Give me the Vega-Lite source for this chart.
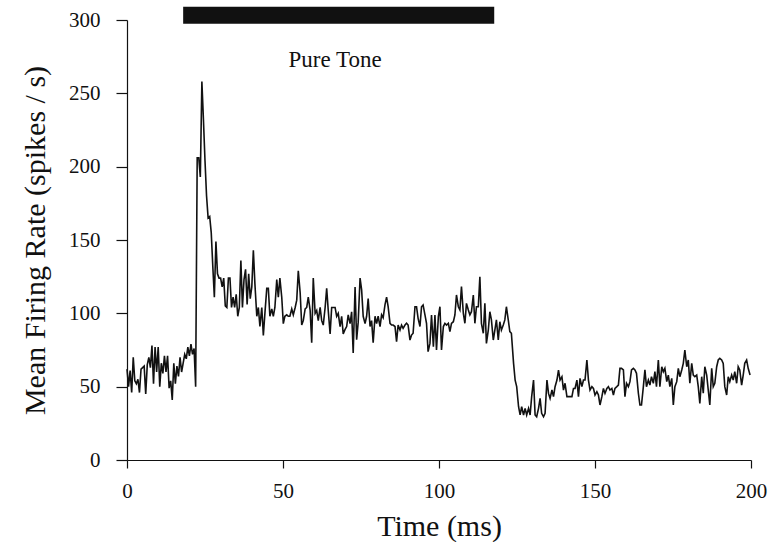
{
  "$schema": "https://vega.github.io/schema/vega-lite/v6.json",
  "width": 624,
  "height": 440,
  "autosize": "none",
  "padding": {"left": 127, "top": 20, "right": 25, "bottom": 82},
  "background": "white",
  "config": {
    "view": {"stroke": null},
    "font": "Liberation Serif",
    "axis": {
      "grid": false,
      "domainColor": "#111",
      "tickColor": "#111",
      "labelColor": "#111",
      "titleColor": "#111",
      "labelFont": "Liberation Serif",
      "titleFont": "Liberation Serif",
      "labelFontSize": 21,
      "titleFontSize": 30,
      "titleFontWeight": "normal",
      "labelFlush": false,
      "labelOverlap": false,
      "domainWidth": 1.2,
      "tickWidth": 1.2
    }
  },
  "layer": [
    {
      "data": {"values": [
        {"t":0,"r":62},{"t":0.5,"r":50},{"t":1,"r":61},{"t":1.5,"r":46},{"t":2,"r":70},{"t":2.5,"r":54},{"t":3,"r":52},{"t":3.5,"r":55},{"t":4,"r":46},{"t":4.5,"r":62},
        {"t":5,"r":63},{"t":5.5,"r":64},{"t":6,"r":45},{"t":6.5,"r":65},{"t":7,"r":70},{"t":7.5,"r":63},{"t":8,"r":78},{"t":8.5,"r":52},{"t":9,"r":77},{"t":9.5,"r":60},
        {"t":10,"r":77},{"t":10.5,"r":50},{"t":11,"r":66},{"t":11.5,"r":59},{"t":12,"r":71},{"t":12.5,"r":60},{"t":13,"r":71},{"t":13.5,"r":49},{"t":14,"r":54},{"t":14.5,"r":41},
        {"t":15,"r":66},{"t":15.5,"r":52},{"t":16,"r":64},{"t":16.5,"r":57},{"t":17,"r":70},{"t":17.5,"r":60},{"t":18,"r":66},{"t":18.5,"r":72},{"t":19,"r":69},{"t":19.5,"r":77},
        {"t":20,"r":71},{"t":20.5,"r":79},{"t":21,"r":72},{"t":21.5,"r":76},{"t":22,"r":50},
        {"t":22.5,"r":206},{"t":23,"r":206},{"t":23.5,"r":193},{"t":24,"r":258},{"t":24.5,"r":232},{"t":25,"r":204},{"t":25.5,"r":180},{"t":26,"r":165},{"t":26.5,"r":166},{"t":27,"r":155},
        {"t":27.5,"r":132},{"t":28,"r":111},{"t":28.5,"r":149},{"t":29,"r":127},{"t":29.5,"r":124},
        {"t":30,"r":124},{"t":30.5,"r":118},{"t":31,"r":124},{"t":31.5,"r":105},{"t":32,"r":104},{"t":32.5,"r":124},{"t":33,"r":124},{"t":33.5,"r":104},{"t":34,"r":111},{"t":34.5,"r":104},
        {"t":35,"r":113},{"t":35.5,"r":98},{"t":36,"r":104},{"t":36.5,"r":136},{"t":37,"r":104},{"t":37.5,"r":123},{"t":38,"r":130},{"t":38.5,"r":106},{"t":39,"r":127},{"t":39.5,"r":110},{"t":40,"r":118},
        {"t":40.5,"r":143},{"t":41.0,"r":120},{"t":41.6,"r":98},{"t":42.1,"r":104},{"t":42.6,"r":91},{"t":43.2,"r":104},{"t":43.7,"r":85},{"t":44.2,"r":100},{"t":44.8,"r":117},{"t":45.3,"r":117},
        {"t":45.8,"r":98},{"t":46.4,"r":103},{"t":46.9,"r":98},{"t":47.4,"r":104},{"t":48.0,"r":123},{"t":48.5,"r":111},{"t":49.0,"r":124},{"t":49.6,"r":111},{"t":50.1,"r":93},{"t":50.6,"r":98},
        {"t":51.2,"r":99},{"t":51.7,"r":98},{"t":52.2,"r":98},{"t":52.8,"r":103},{"t":53.3,"r":99},{"t":53.9,"r":104},{"t":54.4,"r":109},{"t":54.9,"r":129},{"t":55.5,"r":114},{"t":56.0,"r":92},
        {"t":56.5,"r":95},{"t":57.1,"r":103},{"t":57.6,"r":104},{"t":58.1,"r":111},{"t":58.7,"r":102},{"t":59.2,"r":80},{"t":59.7,"r":124},{"t":60.3,"r":100},{"t":60.8,"r":102},{"t":61.3,"r":95},
        {"t":61.9,"r":104},{"t":62.4,"r":95},{"t":62.9,"r":92},{"t":63.5,"r":104},{"t":64.0,"r":117},{"t":64.5,"r":102},{"t":65.1,"r":86},{"t":65.6,"r":104},{"t":66.1,"r":104},{"t":66.7,"r":104},
        {"t":67.2,"r":98},{"t":67.7,"r":100},{"t":68.3,"r":91},{"t":68.8,"r":98},{"t":69.3,"r":86},{"t":69.9,"r":89},{"t":70.4,"r":91},{"t":70.9,"r":99},{"t":71.5,"r":93},{"t":72.0,"r":101},
        {"t":72.5,"r":73},{"t":73.1,"r":118},{"t":73.6,"r":82},{"t":74.1,"r":94},{"t":74.7,"r":124},{"t":75.2,"r":116},{"t":75.7,"r":98},{"t":76.3,"r":93},{"t":76.8,"r":98},{"t":77.3,"r":110},
        {"t":77.9,"r":91},{"t":78.4,"r":95},{"t":78.9,"r":80},{"t":79.5,"r":98},{"t":80.0,"r":93},{"t":80.5,"r":98},{"t":81.1,"r":91},{"t":81.6,"r":99},{"t":82.1,"r":97},{"t":82.7,"r":106},{"t":83.2,"r":111},
        {"t":83.7,"r":104.5},{"t":84.3,"r":93.2},{"t":84.8,"r":92},{"t":85.3,"r":92},{"t":85.9,"r":91},{"t":86.4,"r":80.7},{"t":86.9,"r":92},{"t":87.5,"r":88.6},{"t":88.0,"r":92},{"t":88.5,"r":89.8},
        {"t":89.1,"r":92},{"t":89.6,"r":93.2},{"t":90.1,"r":92},{"t":90.7,"r":81.8},{"t":91.2,"r":85.2},{"t":91.7,"r":86.4},{"t":92.3,"r":104.5},{"t":92.8,"r":104.5},{"t":93.3,"r":96.6},{"t":93.9,"r":91},
        {"t":94.4,"r":104.5},{"t":94.9,"r":105.7},{"t":95.5,"r":98.9},{"t":96.0,"r":93.2},{"t":96.5,"r":73.9},{"t":97.1,"r":79.5},{"t":97.6,"r":98.9},{"t":98.2,"r":77.3},{"t":98.7,"r":98.9},{"t":99.2,"r":75},
        {"t":99.8,"r":97.7},{"t":100.3,"r":104.5},{"t":100.8,"r":75},{"t":101.4,"r":91},{"t":101.9,"r":93.2},{"t":102.4,"r":92},{"t":103.0,"r":93.2},{"t":103.5,"r":87.5},{"t":104.0,"r":93.2},{"t":104.6,"r":94.3},
        {"t":105.1,"r":98.9},{"t":105.6,"r":112.5},{"t":106.2,"r":104.5},{"t":106.7,"r":102.3},{"t":107.2,"r":118.2},{"t":107.8,"r":100},{"t":108.3,"r":93.2},{"t":108.8,"r":106.8},{"t":109.4,"r":102.3},{"t":109.9,"r":98.9},
        {"t":110.4,"r":101.1},{"t":111.0,"r":112.5},{"t":111.5,"r":93.2},{"t":112.0,"r":104.5},{"t":112.6,"r":104.5},{"t":113.1,"r":125},{"t":113.6,"r":93.2},{"t":114.2,"r":86.4},{"t":114.7,"r":106.8},{"t":115.2,"r":79.5},
        {"t":115.8,"r":88.6},{"t":116.3,"r":101.1},{"t":116.8,"r":95.5},{"t":117.4,"r":81.8},{"t":117.9,"r":88.6},{"t":118.4,"r":95.5},{"t":119.0,"r":81.8},{"t":119.5,"r":94.3},{"t":120.0,"r":88.6},{"t":120.6,"r":92},
        {"t":121.1,"r":95.5},{"t":121.6,"r":104.5},{"t":122.2,"r":95.5},{"t":122.7,"r":87.5},{"t":123.2,"r":86.4},
        {"t":123.9,"r":65.9},{"t":124.4,"r":54.5},{"t":124.9,"r":50},{"t":125.5,"r":36.3},{"t":126.0,"r":30.7},{"t":126.5,"r":36.3},{"t":127.1,"r":30.7},{"t":127.6,"r":35.2},{"t":128.1,"r":30.7},{"t":128.7,"r":35.2},
        {"t":129.2,"r":30.7},{"t":129.7,"r":43.2},{"t":130.3,"r":54.5},{"t":130.8,"r":30.7},{"t":131.3,"r":29.5},{"t":131.9,"r":35.2},{"t":132.4,"r":42},{"t":132.9,"r":31.8},{"t":133.5,"r":29.5},{"t":134.0,"r":31.8},
        {"t":134.6,"r":54.5},{"t":135.1,"r":45.4},{"t":135.6,"r":42},{"t":136.2,"r":47.7},{"t":136.7,"r":43.2},{"t":137.2,"r":50},{"t":137.8,"r":54.5},{"t":138.3,"r":61.3},{"t":138.8,"r":54.5},{"t":139.4,"r":56.8},
        {"t":139.9,"r":47.7},{"t":140.4,"r":52.3},{"t":141.0,"r":43.2},{"t":141.5,"r":43.2},{"t":142.0,"r":43.2},{"t":142.6,"r":43.2},{"t":143.1,"r":48.8},{"t":143.6,"r":48.8},{"t":144.2,"r":54.5},{"t":144.7,"r":43.2},
        {"t":145.2,"r":55.7},{"t":145.8,"r":50},{"t":146.3,"r":54.5},{"t":146.8,"r":54.5},{"t":147.4,"r":68.2},{"t":147.9,"r":54.5},{"t":148.4,"r":47.7},{"t":149.0,"r":50},{"t":149.5,"r":48.8},{"t":150.0,"r":44.3},
        {"t":150.6,"r":46.6},{"t":151.1,"r":44.3},{"t":151.6,"r":37.5},{"t":152.2,"r":43.2},{"t":152.7,"r":48.8},{"t":153.2,"r":45.4},{"t":153.8,"r":48.8},{"t":154.3,"r":50},{"t":154.8,"r":47.7},{"t":155.4,"r":48.8},
        {"t":155.9,"r":44.3},{"t":156.4,"r":48.8},{"t":157.0,"r":50},{"t":157.5,"r":51.1},
        {"t":158.0,"r":62.5},{"t":158.5,"r":62.5},{"t":159.1,"r":61.4},{"t":159.6,"r":43.2},{"t":160.1,"r":52.3},{"t":160.7,"r":50},{"t":161.2,"r":53.4},{"t":161.7,"r":61.4},{"t":162.3,"r":62.5},{"t":162.8,"r":61.4},
        {"t":163.3,"r":59.1},{"t":163.9,"r":45.5},{"t":164.4,"r":37.5},{"t":164.9,"r":37.5},{"t":165.5,"r":50},{"t":166.0,"r":61.4},{"t":166.5,"r":50},{"t":167.1,"r":54.5},{"t":167.6,"r":51.1},{"t":168.1,"r":56.8},
        {"t":168.7,"r":52.3},{"t":169.2,"r":60.2},{"t":169.7,"r":50},{"t":170.3,"r":68.2},{"t":170.8,"r":50},{"t":171.4,"r":63.6},{"t":171.9,"r":60.2},{"t":172.4,"r":62.5},{"t":173.0,"r":53.4},{"t":173.5,"r":57.9},
        {"t":174.0,"r":50},{"t":174.6,"r":55.7},{"t":175.1,"r":37.5},{"t":175.6,"r":50},{"t":176.2,"r":53.4},{"t":176.7,"r":62.5},{"t":177.2,"r":56.8},{"t":177.8,"r":61.4},{"t":178.3,"r":65.9},{"t":178.8,"r":75},
        {"t":179.4,"r":63.6},{"t":179.9,"r":68.2},{"t":180.4,"r":52.3},{"t":181.0,"r":65.9},{"t":181.5,"r":57.9},{"t":182.0,"r":56.8},{"t":182.6,"r":57.9},{"t":183.1,"r":50},{"t":183.6,"r":38.6},{"t":184.2,"r":56.8},
        {"t":184.7,"r":45.5},{"t":185.2,"r":63.6},{"t":185.8,"r":57.9},{"t":186.3,"r":47.7},{"t":186.8,"r":37.5},{"t":187.4,"r":62.5},{"t":187.9,"r":50},{"t":188.4,"r":52.3},{"t":189.0,"r":63.6},{"t":189.5,"r":68.2},
        {"t":190.0,"r":69.3},{"t":190.6,"r":68.2},{"t":191.1,"r":65.9},{"t":191.6,"r":50},{"t":192.2,"r":44.3},{"t":192.7,"r":56.8},{"t":193.2,"r":53.4},{"t":193.8,"r":57.9},{"t":194.3,"r":54.5},{"t":194.8,"r":60.2},
        {"t":195.4,"r":52.3},{"t":195.9,"r":63.6},{"t":196.4,"r":61.4},{"t":197.0,"r":51.1},{"t":197.5,"r":57.9},{"t":198.0,"r":65.9},{"t":198.6,"r":68.2},{"t":199.1,"r":62.5},{"t":199.7,"r":57.9}
      ]},
      "mark": {"type": "line", "color": "#111", "strokeWidth": 1.6, "interpolate": "linear"},
      "encoding": {
        "x": {"field": "t", "type": "quantitative", "title": "Time (ms)",
              "scale": {"domain": [0, 200], "nice": false},
              "axis": {"values": [0, 50, 100, 150, 200], "tickSize": 8, "labelPadding": 12, "titlePadding": 10,
                       "labelFont": "Liberation Serif", "labelFontSize": 21, "labelFlush": false}},
        "y": {"field": "r", "type": "quantitative", "title": "Mean Firing Rate (spikes / s)",
              "scale": {"domain": [0, 300], "nice": false},
              "axis": {"values": [0, 50, 100, 150, 200, 250, 300], "tickSize": 11, "labelPadding": 16, "titlePadding": 18,
                       "labelFont": "Liberation Serif", "labelFontSize": 21, "labelFlush": false}}
      }
    },
    {
      "data": {"values": [{"t": 18, "t2": 117.7, "r": 297.5, "r2": 309}]},
      "mark": {"type": "rect", "color": "#111"},
      "encoding": {
        "x": {"field": "t", "type": "quantitative", "title": "Time (ms)"},
        "x2": {"field": "t2"},
        "y": {"field": "r", "type": "quantitative", "title": "Mean Firing Rate (spikes / s)"},
        "y2": {"field": "r2"}
      }
    },
    {
      "data": {"values": [{"t": 66.7, "r": 273, "label": "Pure Tone"}]},
      "mark": {"type": "text", "font": "Liberation Serif", "fontSize": 23, "color": "#111", "align": "center", "baseline": "middle"},
      "encoding": {
        "x": {"field": "t", "type": "quantitative", "title": "Time (ms)"},
        "y": {"field": "r", "type": "quantitative", "title": "Mean Firing Rate (spikes / s)"},
        "text": {"field": "label"}
      }
    }
  ]
}
